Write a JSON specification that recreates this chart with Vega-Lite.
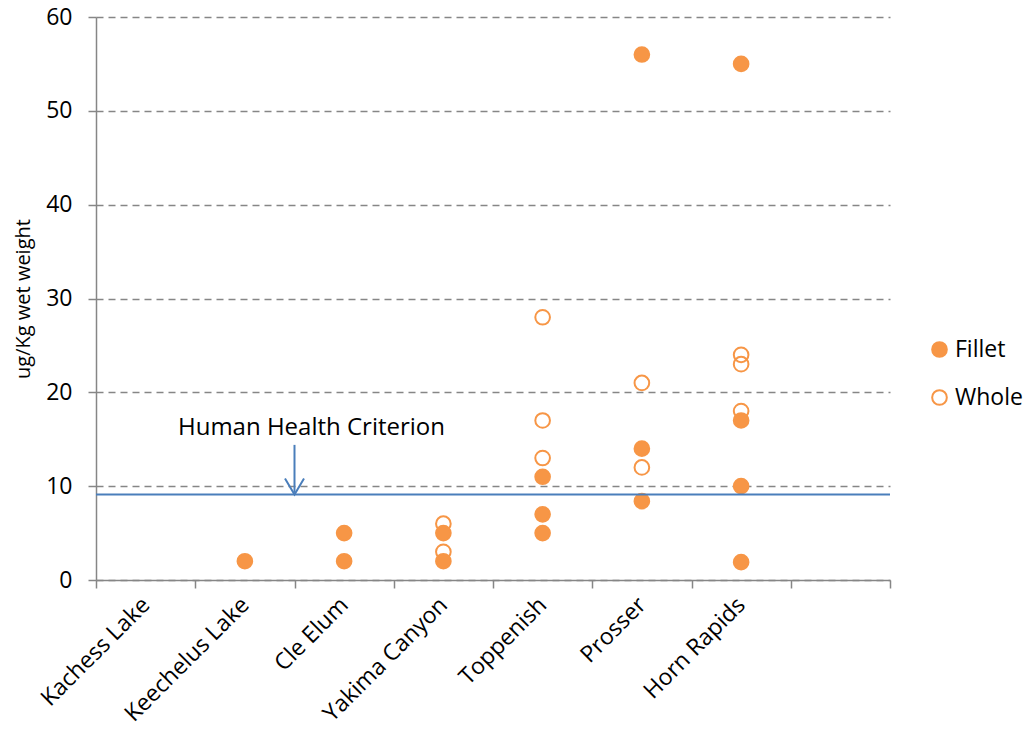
{
  "$schema": "https://vega.github.io/schema/vega-lite/v6.json",
  "width": 794,
  "height": 563,
  "autosize": {"type": "none"},
  "padding": {"left": 96, "top": 17, "right": 139, "bottom": 160},
  "background": "white",
  "config": {
    "font": "Open Sans",
    "view": {"stroke": null},
    "axis": {
      "domainColor": "#868686",
      "domainWidth": 1.5,
      "tickColor": "#868686",
      "tickWidth": 1.5,
      "tickSize": 8,
      "labelColor": "#000000",
      "labelFontSize": 23,
      "titleColor": "#000000",
      "titleFontSize": 20,
      "titleFontWeight": "normal"
    }
  },
  "layer": [
    {
      "data": {
        "values": [
          {"site": "Yakima Canyon", "type": "Whole", "value": 6},
          {"site": "Yakima Canyon", "type": "Whole", "value": 3},
          {"site": "Toppenish", "type": "Whole", "value": 28},
          {"site": "Toppenish", "type": "Whole", "value": 17},
          {"site": "Toppenish", "type": "Whole", "value": 13},
          {"site": "Prosser", "type": "Whole", "value": 21},
          {"site": "Prosser", "type": "Whole", "value": 12},
          {"site": "Horn Rapids", "type": "Whole", "value": 24},
          {"site": "Horn Rapids", "type": "Whole", "value": 23},
          {"site": "Horn Rapids", "type": "Whole", "value": 18},
          {"site": "Keechelus Lake", "type": "Fillet", "value": 2},
          {"site": "Cle Elum", "type": "Fillet", "value": 5},
          {"site": "Cle Elum", "type": "Fillet", "value": 2},
          {"site": "Yakima Canyon", "type": "Fillet", "value": 5},
          {"site": "Yakima Canyon", "type": "Fillet", "value": 2},
          {"site": "Toppenish", "type": "Fillet", "value": 11},
          {"site": "Toppenish", "type": "Fillet", "value": 7},
          {"site": "Toppenish", "type": "Fillet", "value": 5},
          {"site": "Prosser", "type": "Fillet", "value": 56},
          {"site": "Prosser", "type": "Fillet", "value": 14},
          {"site": "Prosser", "type": "Fillet", "value": 8.4},
          {"site": "Horn Rapids", "type": "Fillet", "value": 55},
          {"site": "Horn Rapids", "type": "Fillet", "value": 17},
          {"site": "Horn Rapids", "type": "Fillet", "value": 10},
          {"site": "Horn Rapids", "type": "Fillet", "value": 1.9}
        ]
      },
      "mark": {"type": "circle", "size": 215, "stroke": "#F79646", "strokeWidth": 2, "opacity": 1},
      "encoding": {
        "x": {
          "field": "site",
          "type": "nominal",
          "title": null,
          "sort": null,
          "scale": {
            "type": "band",
            "domain": ["Kachess Lake", "Keechelus Lake", "Cle Elum", "Yakima Canyon", "Toppenish", "Prosser", "Horn Rapids", ""],
            "paddingInner": 0,
            "paddingOuter": 0
          },
          "axis": {
            "tickBand": "extent",
            "labelAngle": -45,
            "labelAlign": "right",
            "labelBaseline": "middle",
            "labelPadding": 13,
            "labelOverlap": false,
            "labelFlush": false,
            "grid": false
          }
        },
        "y": {
          "field": "value",
          "type": "quantitative",
          "title": "ug/Kg wet weight",
          "scale": {"domain": [0, 60], "nice": false},
          "axis": {
            "values": [0, 10, 20, 30, 40, 50, 60],
            "grid": true,
            "gridColor": "#868686",
            "gridDash": [7, 5],
            "gridWidth": 1.3,
            "labelPadding": 16,
            "titlePadding": 12
          }
        },
        "fill": {
          "field": "type",
          "type": "nominal",
          "scale": {"domain": ["Fillet", "Whole"], "range": ["#F79646", "transparent"]},
          "legend": {
            "title": null,
            "orient": "none",
            "legendX": 832,
            "legendY": 321,
            "labelFontSize": 23,
            "labelColor": "#000000",
            "symbolType": "circle",
            "symbolSize": 215,
            "symbolStrokeColor": "#F79646",
            "symbolStrokeWidth": 2,
            "rowPadding": 24,
            "labelOffset": 4
          }
        }
      }
    },
    {
      "data": {"values": [{"criterion": 9.1}]},
      "mark": {"type": "rule", "color": "#4A7EBB", "strokeWidth": 2},
      "encoding": {
        "y": {"field": "criterion", "type": "quantitative", "title": "ug/Kg wet weight"}
      }
    },
    {
      "data": {"values": [{"site": "Cle Elum", "top": 14.4, "bottom": 9.3}]},
      "mark": {"type": "rule", "color": "#4A7EBB", "strokeWidth": 2},
      "encoding": {
        "x": {"field": "site", "type": "nominal", "title": null, "bandPosition": 0},
        "y": {"field": "top", "type": "quantitative", "title": "ug/Kg wet weight"},
        "y2": {"field": "bottom"}
      }
    },
    {
      "data": {"values": [{"site": "Cle Elum", "tip": 9.1}]},
      "mark": {"type": "point", "shape": "M-1,-1.7L0,0L1,-1.7", "size": 361, "filled": false, "stroke": "#4A7EBB", "strokeWidth": 2, "opacity": 1},
      "encoding": {
        "x": {"field": "site", "type": "nominal", "title": null, "bandPosition": 0},
        "y": {"field": "tip", "type": "quantitative", "title": "ug/Kg wet weight"}
      }
    },
    {
      "data": {"values": [{"site": "Cle Elum", "pos": 16.2, "label": "Human Health Criterion"}]},
      "mark": {"type": "text", "fontSize": 24, "color": "#000000", "align": "center", "baseline": "middle", "dx": 17},
      "encoding": {
        "x": {"field": "site", "type": "nominal", "title": null, "bandPosition": 0},
        "y": {"field": "pos", "type": "quantitative", "title": "ug/Kg wet weight"},
        "text": {"field": "label"}
      }
    }
  ]
}
